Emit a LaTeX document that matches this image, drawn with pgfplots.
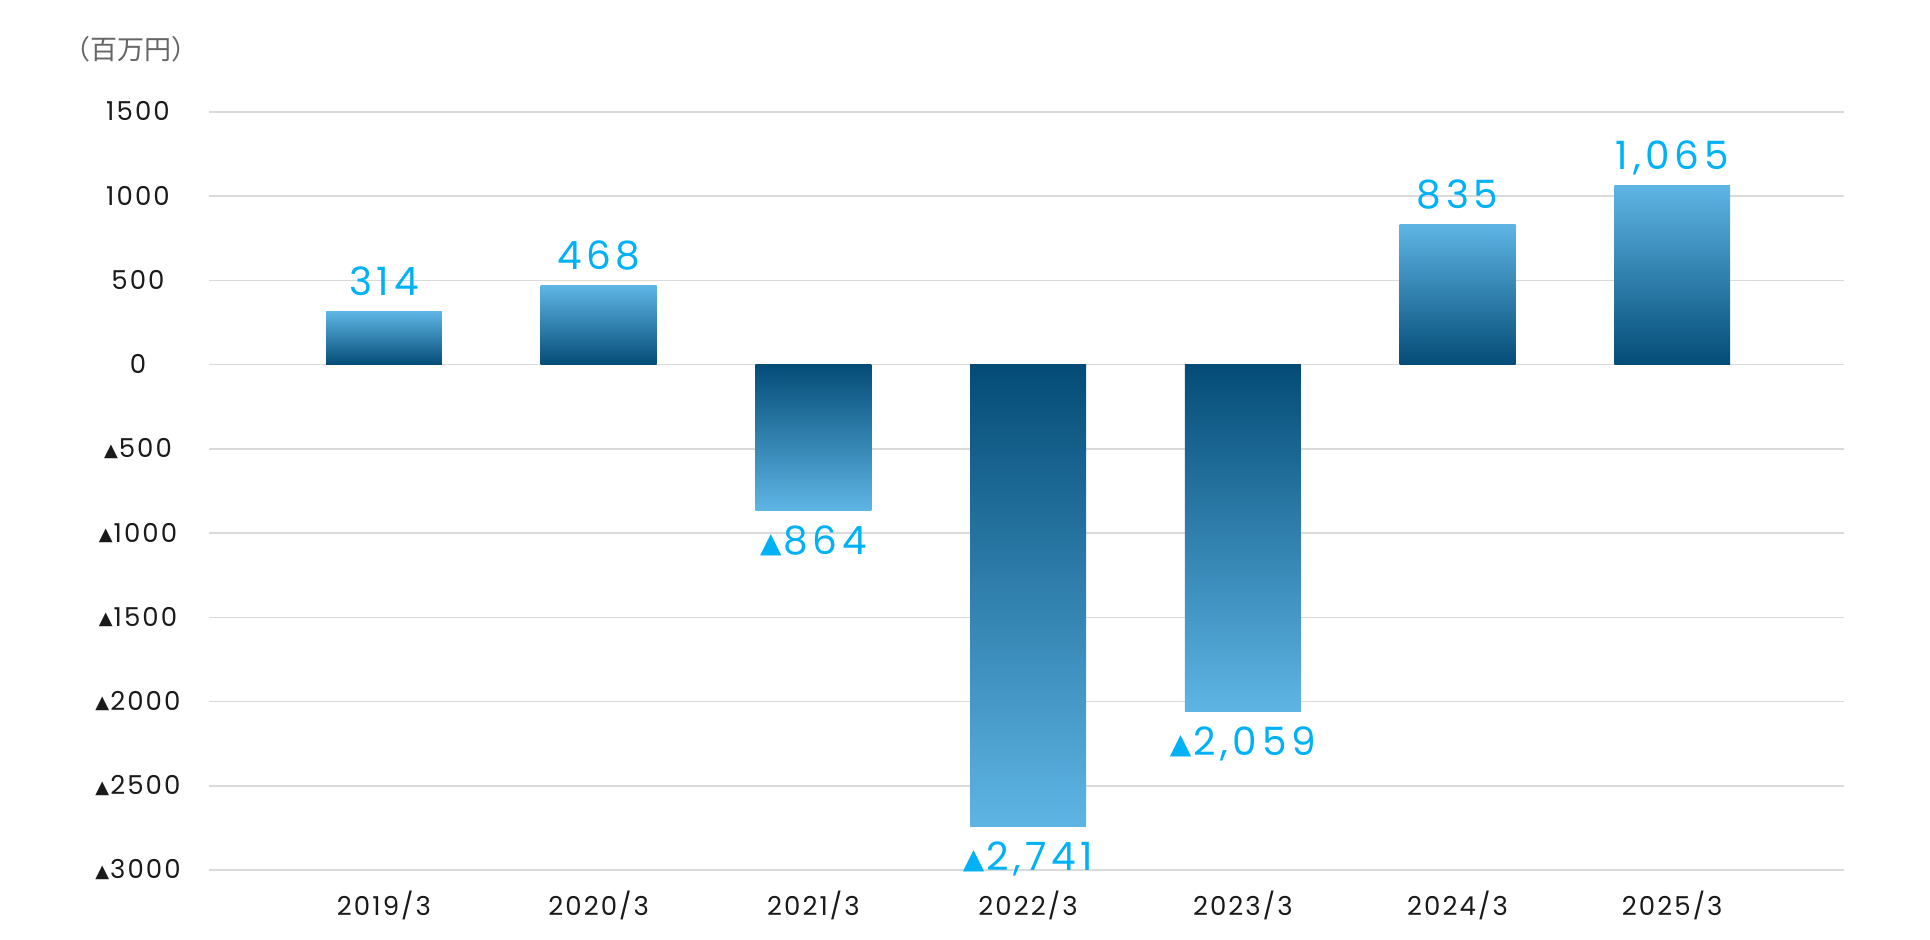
\documentclass[border=0pt]{standalone}
\usepackage{fontspec}
\setmainfont{Poppins}
\newfontfamily\tickfont[LetterSpace=8]{Poppins}
\newfontfamily\labfont[LetterSpace=12]{Poppins}
\newfontfamily\cjk{Noto Sans CJK JP}
\newfontfamily\dejavu{DejaVu Sans}
\usepackage{pgfplots}
\pgfplotsset{compat=1.18}
\definecolor{barlight}{RGB}{94,181,228}
\definecolor{bardark}{RGB}{4,76,119}
\definecolor{lblcyan}{RGB}{0,178,245}
\definecolor{gridgray}{RGB}{218,218,218}
\definecolor{ticktext}{RGB}{26,26,26}
\definecolor{unitgray}{RGB}{102,102,102}
\newcommand{\tk}{\raisebox{0.8pt}{\dejavu\fontsize{9}{9}\selectfont ▲}\kern0.5pt}
\newcommand{\tl}{\raisebox{1pt}{\dejavu\fontsize{14}{14}\selectfont ▲}\kern1pt}
\pgfplotsset{
  posbar/.style={ybar, bar width=0.54, bar shift=0pt, draw=none, top color=barlight, bottom color=bardark,
    nodes near coords, point meta=explicit symbolic,
    every node near coord/.append style={anchor=base, yshift=8pt, text=lblcyan, font=\labfont\fontsize{19.5}{19.5}\selectfont}},
  negbar/.style={ybar, bar width=0.54, bar shift=0pt, draw=none, top color=bardark, bottom color=barlight,
    nodes near coords, point meta=explicit symbolic,
    every node near coord/.append style={anchor=base, yshift=-22pt, text=lblcyan, font=\labfont\fontsize{19.5}{19.5}\selectfont}},
}
\begin{document}
\begin{tikzpicture}
\begin{axis}[
  at={(0,0)}, anchor=south west,
  scale only axis, width=817.5pt, height=379pt,
  xmin=-0.815, xmax=6.8, ymin=-3000, ymax=1500,
  axis line style={draw=none}, tick style={draw=none},
  ymajorgrids, grid style={gridgray, line width=0.8pt},
  xtick={0,1,2,3,4,5,6},
  xticklabels={2019/3,2020/3,2021/3,2022/3,2023/3,2024/3,2025/3},
  ytick={-3000,-2500,-2000,-1500,-1000,-500,0,500,1000,1500},
  yticklabels={\tk 3000,\tk 2500,\tk 2000,\tk 1500,\tk 1000,\tk 500,0,500,1000,1500},
  xticklabel style={anchor=base, yshift=-23pt, font=\tickfont\fontsize{13}{13}\selectfont, text=ticktext},
  yticklabel style={anchor=base, xshift=-35.5pt, yshift=-4.5pt, font=\tickfont\fontsize{13}{13}\selectfont, text=ticktext},
  clip=false,
]
\addplot[posbar] coordinates {(0,314)[314]};
\addplot[posbar] coordinates {(1,468)[468]};
\addplot[negbar] coordinates {(2,-864)[\tl 864]};
\addplot[negbar] coordinates {(3,-2741)[\tl 2{,}741]};
\addplot[negbar] coordinates {(4,-2059)[\tl 2{,}059]};
\addplot[posbar] coordinates {(5,835)[835]};
\addplot[posbar] coordinates {(6,1065)[1{,}065]};
\end{axis}
\node[anchor=west, text=unitgray, inner sep=0pt] at (-73pt,410.5pt) {\cjk\fontsize{13.5}{13.5}\selectfont （百万円）};
\path[use as bounding box] (-104.5pt,-35pt) rectangle (860.5pt,435pt);
\end{tikzpicture}
\end{document}
